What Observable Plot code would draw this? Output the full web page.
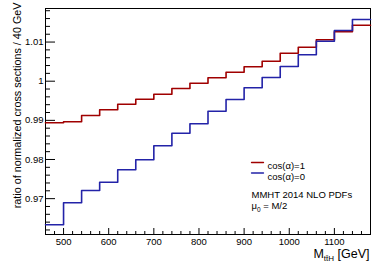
<!DOCTYPE html>
<html><head><meta charset="utf-8">
<script src="https://cdn.jsdelivr.net/npm/d3@7"></script>
<script src="https://cdn.jsdelivr.net/npm/@observablehq/plot@0.6"></script>
<style>html,body{margin:0;padding:0;background:#fff}svg{display:block}</style>
</head><body><div id="chart"></div>
<script>
// bin edges (GeV), 40 GeV bins
const binEdges = [460,500,540,580,620,660,700,740,780,820,860,900,940,980,1020,1060,1100,1140,1180];
// ratio of normalized cross sections per bin
const cosAlpha1 = [0.98937,0.98963,0.99124,0.99269,0.99413,0.99540,0.99668,0.99814,0.99949,1.00087,1.00230,1.00368,1.00511,1.00715,1.00868,1.01057,1.01262,1.01430];
const cosAlpha0 = [0.96332,0.96894,0.97208,0.97420,0.97737,0.97992,0.98350,0.98672,0.98912,0.99234,0.99533,0.99831,1.00095,1.00375,1.00674,1.01022,1.01295,1.01576];
const seriesLabels = ["cos(\u03b1)=1","cos(\u03b1)=0"];
const seriesColors = ["#a00000","#2323a8"];
const yMajorTicks = [0.97,0.98,0.99,1,1.01];
const yTickLabels = ["0.97","0.98","0.99","1","1.01"];
const yMinorTicks = [0.962,0.964,0.966,0.968,0.972,0.974,0.976,0.978,0.982,0.984,0.986,0.988,0.992,0.994,0.996,0.998,1.002,1.004,1.006,1.008,1.012,1.014,1.016,1.018];
const xMajorTicks = [500,600,700,800,900,1000,1100];
const xTickLabels = ["500","600","700","800","900","1000","1100"];
const xMinorTicks = [460,480,520,540,560,580,620,640,660,680,720,740,760,780,820,840,860,880,920,940,960,980,1020,1040,1060,1080,1120,1140,1160,1180];
const notes = ["MMHT 2014 NLO PDFs","\u03bc0 = M/2"];
const yTitle = "ratio of normalized cross sections / 40 GeV";
const xTitle = "MttH [GeV]";

const W = 382, H = 267;
const mL = 45, mR = 12, mT = 8, mB = 33;
const pw = W - mL - mR, ph = H - mT - mB;

function steps(vals) {
  const pts = vals.map((v, i) => ({x: binEdges[i], y: v}));
  pts.push({x: binEdges[binEdges.length - 1], y: vals[vals.length - 1]});
  return pts;
}
const series = [cosAlpha1, cosAlpha0];

const lineShape = {draw(ctx, l) { ctx.moveTo(0, 0); ctx.lineTo(0, -l); }};

const marks = [
  Plot.frame({stroke: "#000", strokeWidth: 1}),
  Plot.tickY(yMajorTicks, {y: d => d, insetRight: pw - 10, stroke: "#000"}),
  Plot.tickY(yMinorTicks, {y: d => d, insetRight: pw - 5, stroke: "#000"}),
  Plot.tickX(xMajorTicks, {x: d => d, insetTop: ph - 6, stroke: "#000"}),
  Plot.tickX(xMinorTicks, {x: d => d, insetTop: ph - 3, stroke: "#000"}),
  Plot.axisY({ticks: yMajorTicks, tickSize: 0, tickPadding: 2, tickFormat: d => yTickLabels[yMajorTicks.indexOf(d)], fontSize: 9.5, label: null}),
  Plot.axisX({ticks: xMajorTicks, tickSize: 0, tickPadding: 4, tickFormat: d => xTickLabels[xMajorTicks.indexOf(d)], fontSize: 9.5, label: null}),
  ...series.map((s, i) => Plot.line(steps(s), {x: "x", y: "y", curve: "step-after", stroke: seriesColors[i], strokeWidth: 1.6})),
  ...seriesLabels.map((lab, i) => Plot.vector([lab], {frameAnchor: "top-left", dx: 206, dy: 154 + i * 10.5, rotate: 90, length: 12, anchor: "start", shape: lineShape, stroke: seriesColors[i], strokeWidth: 1.3})),
  ...seriesLabels.map((lab, i) => Plot.text([lab], {frameAnchor: "top-left", dx: 222, dy: 154 + i * 10.5, text: d => d, textAnchor: "start", fontSize: 9.5})),
  ...notes.map((n, i) => Plot.text([n], {frameAnchor: "top-left", dx: 206, dy: 183 + i * 11, text: d => d, textAnchor: "start", fontSize: 9.5, className: "note" + i})),
  Plot.text([yTitle], {frameAnchor: "top-left", dx: -32, dy: -6, rotate: -90, text: d => d, textAnchor: "end", fontSize: 10.8}),
  Plot.text([xTitle], {frameAnchor: "bottom-right", dx: -1, dy: 23, text: d => d, textAnchor: "end", fontSize: 12.5, className: "xtitle"})
];

const chart = Plot.plot({
  width: W, height: H,
  marginLeft: mL, marginRight: mR, marginTop: mT, marginBottom: mB,
  x: {domain: [460, 1180], axis: null},
  y: {domain: [0.96084, 1.01857], axis: null},
  style: {fontFamily: "'Liberation Sans', Arial, sans-serif", fontSize: "9px", color: "#000", background: "#fff", overflow: "visible"},
  marks
});
document.getElementById("chart").appendChild(chart);

// subscripts
const xt = d3.select(chart).select("g.xtitle text");
if (!xt.empty()) {
  xt.text(null);
  xt.append("tspan").text("M");
  xt.append("tspan").attr("font-size", "8px").attr("dy", "3").text("tt\u0304H");
  xt.append("tspan").attr("dy", "-3").text(" [GeV]");
}
const nt = d3.select(chart).select("g.note1 text");
if (!nt.empty()) {
  nt.text(null);
  nt.append("tspan").text("\u03bc");
  nt.append("tspan").attr("font-size", "6.5px").attr("dy", "3").text("0");
  nt.append("tspan").attr("dy", "-3").text(" = M/2");
}
</script></body></html>
